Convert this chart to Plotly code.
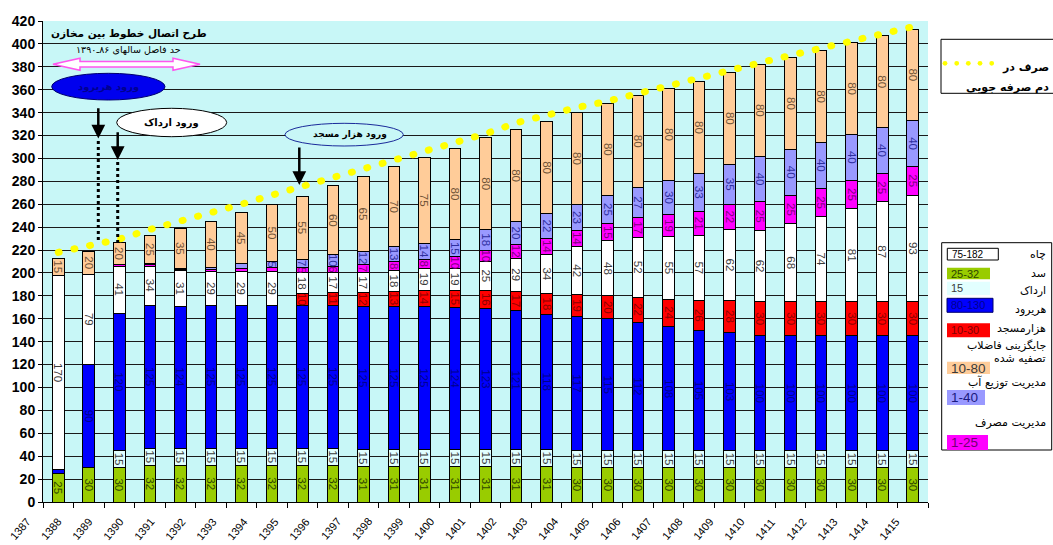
import plotly.graph_objects as go

# ---------------- data ----------------
years = [str(y) for y in range(1387, 1416)]
dam = [25, 30, 30, 32, 32, 32, 32, 32, 32, 32, 31, 31, 31, 31, 31, 31, 31,
       30, 30, 30, 30, 30, 30, 30, 30, 30, 30, 30, 30]
ardak = [0, 0] + [15] * 27
harirud = [3, 90, 120, 125, 124, 125, 125, 125, 125, 125, 125, 125, 125, 124, 123,
           121, 118, 117, 115, 112, 108, 105, 103, 100, 100, 100, 100, 100, 100]
hazar = [0, 0, 0, 0, 0, 0, 0, 0, 10, 11, 12, 13, 14, 15, 16, 17, 18, 19, 20, 22,
         24, 26, 28, 30, 30, 30, 30, 30, 30]
wells = [170, 79, 41, 34, 31, 29, 29, 29, 18, 17, 17, 18, 19, 19, 25, 29, 34, 42,
         48, 52, 55, 57, 62, 62, 68, 74, 81, 87, 93]
cons_mgmt = [0, 0, 1, 1, 1, 2, 3, 4, 5, 6, 7, 8, 8, 10, 10, 12, 14, 14, 15, 17,
             19, 21, 22, 25, 25, 25, 25, 25, 25]
dist_mgmt = [0, 0, 0, 1, 1, 2, 4, 5, 7, 10, 12, 13, 14, 15, 18, 20, 22, 23, 25, 27,
             30, 33, 35, 40, 40, 40, 40, 40, 40]
wastewater = [15, 20, 20, 25, 35, 40, 45, 50, 55, 60, 65, 70, 75] + [80] * 16
demand = [218, 224.5, 229.5, 238, 245, 252, 260, 268, 275.5, 283, 290.5, 298, 305.5,
          314, 321.5, 331, 338, 344.5, 350, 357, 363.5, 370.5, 377, 383.5, 390,
          396.5, 402.5, 409, 415]
y_ticks = list(range(0, 421, 20))

# ---------------- geometry helpers (pixel -> paper) ----------------
W, H = 1053, 545
L, R, T, B = 43, 928, 21, 502


def px(x):
    return (x - L) / (R - L)


def py(y):
    return (B - y) / (B - T)


FA = "DejaVu Sans, Noto Sans, sans-serif"
LAT = "Liberation Sans, Arial, sans-serif"

fig = go.Figure()

series = [
    (dam, "سد", "#99cc00", "#2e4600"),
    (ardak, "ارداک", "#e2ffff", "#3a3a3a"),
    (harirud, "هریرود", "#0000ff", "#00008c"),
    (hazar, "هزارمسجد", "#ff0000", "#8b0000"),
    (wells, "چاه", "#ffffff", "#3a3a3a"),
    (cons_mgmt, "مدیریت مصرف", "#ff00ff", "#7a007a"),
    (dist_mgmt, "مدیریت توزیع آب", "#9999ff", "#2e2e9e"),
    (wastewater, "جایگزینی فاضلاب تصفیه شده", "#ffcc99", "#6e5236"),
]
for vals, name, col, tcol in series:
    fig.add_trace(go.Bar(
        x=years, y=[v if v else None for v in vals], name=name,
        marker=dict(color=col, line=dict(color="black", width=1)),
        text=[str(v) if v >= 5 else "" for v in vals],
        textposition="inside", insidetextanchor="middle", textangle=90,
        constraintext="none",
        insidetextfont=dict(family=LAT, size=11.5, color=tcol),
        showlegend=False, hoverinfo="skip"))

fig.add_trace(go.Scatter(
    x=years, y=demand, mode="lines", name="مصرف در صورت عدم صرفه جویی",
    line=dict(color="#ffff00", width=7, dash="1px,15px"),
    showlegend=False, hoverinfo="skip"))

shapes = []
annotations = []


def rect(x0, y0, x1, y1, fill, line=None, lw=1):
    shapes.append(dict(type="rect", xref="paper", yref="paper",
                       x0=px(x0), x1=px(x1), y0=py(y1), y1=py(y0),
                       fillcolor=fill, line=dict(color=line or fill, width=lw if line else 0)))


def hline(x0, y0, x1, y1, color="black", width=1, dash="solid"):
    shapes.append(dict(type="line", xref="paper", yref="paper",
                       x0=px(x0), x1=px(x1), y0=py(y0), y1=py(y1),
                       line=dict(color=color, width=width, dash=dash)))


def ellipse(x0, y0, x1, y1, fill, line, lw=1):
    shapes.append(dict(type="circle", xref="paper", yref="paper",
                       x0=px(x0), x1=px(x1), y0=py(y1), y1=py(y0),
                       fillcolor=fill, line=dict(color=line, width=lw)))


def text(x, y, s, size=11, color="black", xanchor="center", family=FA, angle=0):
    annotations.append(dict(x=px(x), y=py(y), xref="paper", yref="paper", text=s,
                            showarrow=False, xanchor=xanchor, yanchor="middle",
                            textangle=angle,
                            font=dict(family=family, size=size, color=color)))


def arrow(x, ytip, ytail):
    annotations.append(dict(x=px(x), y=py(ytip), xref="paper", yref="paper", text="",
                            showarrow=True, ax=0, ay=-(ytip - ytail), axref="pixel",
                            ayref="pixel", arrowhead=2, arrowsize=1.1, arrowwidth=2.5,
                            arrowcolor="black"))


# ---- x tick labels (slanted, placed as in the reference) ----
for i, yr in enumerate(years):
    text(20 + 31.05 * i, 529, yr, size=11, family=LAT, angle=-50)

# ---- top-left annotations ----
text(128.5, 33.5, "<b>طرح اتصال خطوط بین مخازن</b>", size=10.5)
text(128.5, 50, "حد فاصل سالهای ۸۶ـ۱۳۹۰", size=9.5)
arrow_pts = [(53, 64.3), (80, 58.3), (80, 61.5), (173, 61.5), (173, 58.3), (200, 64.3),
             (173, 70.3), (173, 67), (80, 67), (80, 70.3)]
path = "M " + " L ".join(f"{px(a):.5f},{py(b):.5f}" for a, b in arrow_pts) + " Z"
shapes.append(dict(type="path", xref="paper", yref="paper", path=path,
                   fillcolor="white", line=dict(color="#ff55ee", width=1.5)))

ellipse(51.7, 73.3, 165, 100, "#0000ee", "#000070")
text(108, 87, "<b>ورود هریرود</b>", size=10, color="#000090")
ellipse(116.7, 108.3, 226.7, 136.7, "white", "black")
text(171.7, 122.5, "<b>ورود ارداک</b>", size=10)
ellipse(285, 123.3, 403.3, 146, "#c8f7f7", "#1a2a9a")
text(350, 134.5, "<b>ورود هزار مسجد</b>", size=9)

arrow(98.3, 138.5, 106.7)
hline(98.3, 141, 98.3, 243, width=3, dash="dot")
arrow(117.7, 160, 130.7)
hline(117.7, 162, 117.7, 242, width=3, dash="dot")
arrow(299.3, 185, 146)

# ---- legend box 1 (consumption without saving) ----
hline(941, 39.3, 1053, 39.3)
hline(941, 39.3, 941, 93.3)
hline(941, 93.3, 1053, 93.3)
for cx in [945, 956.7, 968.3, 980, 991.7]:
    shapes.append(dict(type="circle", xref="paper", yref="paper",
                       x0=px(cx - 2.4), x1=px(cx + 2.4), y0=py(63.3 + 2.4), y1=py(63.3 - 2.4),
                       fillcolor="#ffff00", line=dict(width=0)))
text(1051, 67, "<b>صرف در</b>", size=11, xanchor="right")
text(1051, 87, "<b>دم صرفه جویی</b>", size=11, xanchor="right")

# ---- legend box 2 ----
rect(941.7, 242.7, 1051.7, 450, "white", "black", 1)
rect(947.3, 248.3, 998.3, 260, "white", "black", 1)
text(950, 254, "75-182", size=10, xanchor="left", family=LAT)
rect(947, 267.7, 990, 279.3, "#99cc00")
text(949, 273.5, "25-32", size=11, color="#2e4600", xanchor="left", family=LAT)
rect(947, 281.7, 990, 295, "#e2ffff")
text(949, 288, "15", size=11, color="#3a3a3a", xanchor="left", family=LAT)
rect(947, 298.3, 993, 312.3, "#0000ff", "#000070", 1)
text(949, 305.3, "80-130", size=11, color="#000090", xanchor="left", family=LAT)
rect(947, 323.3, 990, 337.3, "#ff0000")
text(949, 330.3, "10-30", size=11, color="#800000", xanchor="left", family=LAT)
rect(947, 361.7, 990, 374, "#ffcc99")
text(949, 368, "10-80", size=13.5, color="#3a3a3a", xanchor="left", family=LAT)
rect(947, 390, 985, 405, "#9999ff")
text(949, 397.5, "1-40", size=13.5, color="#1a1a80", xanchor="left", family=LAT)
rect(947, 435, 988, 450, "#ff00ff")
text(949, 442.5, "1-25", size=13.5, color="#700070", xanchor="left", family=LAT)

for yy, s in [(254, "چاه"), (273, "سد"), (291, "ارداک"), (309, "هریرود"),
              (328, "هزارمسجد"), (345, "جایگزینی فاضلاب"), (358, "تصفیه شده"),
              (382, "مدیریت توزیع آب"), (423, "مدیریت مصرف")]:
    text(1048, yy, s, size=11, xanchor="right")

fig.update_layout(
    width=W, height=H,
    margin=dict(l=L, r=W - R, t=T, b=H - B),
    barmode="stack", bargap=0.62,
    plot_bgcolor="#c8f7f7", paper_bgcolor="white",
    showlegend=False,
    xaxis=dict(type="category", tickson="boundaries", ticks="outside", ticklen=5,
               tickcolor="black", showline=True, linecolor="black", linewidth=1,
               showticklabels=False, showgrid=False, range=[-0.5, len(years) - 0.5]),
    yaxis=dict(range=[0, 420], tickvals=y_ticks, showgrid=True, gridcolor="#1a1a1a",
               gridwidth=1, showline=True, linecolor="black", linewidth=1,
               ticks="outside", ticklen=4, tickcolor="black", zeroline=False,
               tickfont=dict(family=LAT, size=14, color="black", weight="bold")),
    shapes=shapes, annotations=annotations,
)

post = """
var gd = document.getElementById('{plot_id}');
function rc(){ gd.querySelectorAll('.scatterlayer .js-line').forEach(function(p){ p.style.strokeLinecap='round'; }); }
rc(); gd.on('plotly_afterplot', rc); setTimeout(rc, 50); setTimeout(rc, 400);
"""
fig.write_html("out.html", post_script=post)
